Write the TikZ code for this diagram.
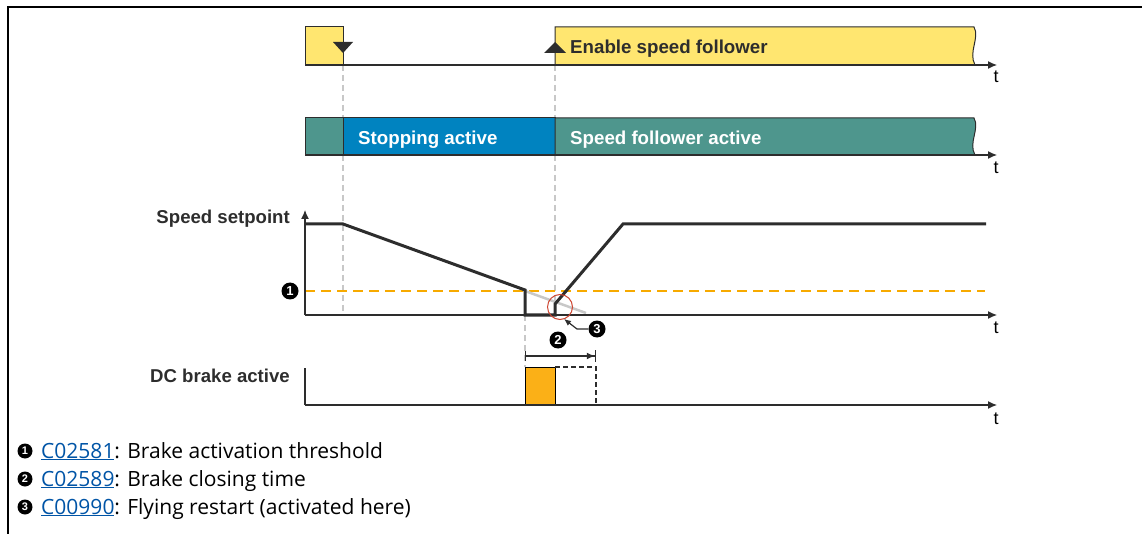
\documentclass[tikz,border=0pt]{standalone}
\usepackage{fontspec}
\setmainfont{Liberation Sans}
\newfontfamily\legendfont{Open Sans}
\usetikzlibrary{arrows.meta}
\definecolor{enyel}{RGB}{255,230,112}
\definecolor{stopblue}{RGB}{0,131,192}
\definecolor{teal2}{RGB}{78,150,141}
\definecolor{brakeorg}{RGB}{251,176,23}
\definecolor{throrg}{RGB}{247,170,0}
\definecolor{guide}{RGB}{200,200,200}
\definecolor{linkblue}{RGB}{0,84,166}
\definecolor{circred}{RGB}{205,70,50}
\definecolor{edge}{RGB}{45,45,45}
\tikzset{
  axis/.style={line width=1.2pt, draw=edge, -{Latex[length=9pt,width=8pt]}},
  yaxis/.style={line width=1.2pt, draw=edge},
  sigbox/.style={draw=edge, line width=1pt},
  guideline/.style={draw=guide, line width=1.3pt, dash pattern=on 6pt off 4pt},
  curve/.style={draw=edge, line width=3pt, line join=miter},
  tlabel/.style={font=\fontsize{18}{18}\selectfont, inner sep=0pt, anchor=base},
  boxtext/.style={font=\fontsize{18.7}{19}\selectfont\bfseries, inner sep=0pt, anchor=base west},
  sidelabel/.style={font=\fontsize{18.6}{19}\selectfont\bfseries, inner sep=0pt, anchor=base east, text=edge},
  numbig/.style={circle, fill=black, text=white, inner sep=0pt, minimum size=17pt, font=\fontsize{13}{13}\selectfont\bfseries},
  numsmall/.style={circle, fill=black, text=white, inner sep=0pt, minimum size=15pt, font=\fontsize{11}{11}\selectfont\bfseries},
  legend/.style={font=\legendfont\fontsize{21}{21}\selectfont, inner sep=0pt, anchor=base west},
}
\newcommand{\lnk}[1]{\underline{#1}}
\begin{document}
\begin{tikzpicture}[x=1pt,y=-1pt]
\useasboundingbox (0,0) rectangle (1142,534);
% frame
\draw[line width=2.5pt, black] (8,534) -- (8,7) -- (1142,7);

% guide dashed lines
\draw[guideline] (343,65) -- (343,315);
\draw[guideline] (555,65) -- (555,305);
\draw[guideline] (525,315) -- (525,367);

% ---------- Row 1: enable ----------
\draw[sigbox, fill=enyel] (305,27) rectangle (343,65);
\draw[sigbox, fill=enyel] (555,65) -- (555,27) -- (974,27)
   .. controls (980,38) and (968,52) .. (975,65) -- cycle;
\draw[axis] (305,65) -- (997,65);
\node[tlabel] (t1) at (996,83) {t};
\fill[edge] (333,42) -- (353,42) -- (343,53) -- cycle;
\fill[edge] (544,53) -- (566,53) -- (555,42) -- cycle;
\node[boxtext, text=edge] (en) at (570,54) {Enable speed follower};

% ---------- Row 2: state ----------
\draw[sigbox, fill=teal2] (305,118) rectangle (343,155);
\draw[sigbox, fill=stopblue] (343,118) rectangle (555,155);
\draw[sigbox, fill=teal2] (555,155) -- (555,118) -- (974,118)
   .. controls (980,129) and (968,143) .. (975,155) -- cycle;
\draw[axis] (305,155) -- (997,155);
\node[tlabel] (t2) at (996,174) {t};
\node[boxtext, text=white] (st) at (358,145) {Stopping active};
\node[boxtext, text=white] (sf) at (570,145) {Speed follower active};

% ---------- Row 3: speed setpoint ----------
\draw[throrg, line width=1.5pt, dash pattern=on 10pt off 6pt] (305,291) -- (985,291);
\draw[guide, line width=2.5pt] (525,291) -- (586,313);
\draw[yaxis, -{Latex[length=9pt,width=8pt]}] (305,315) -- (305,210);
\draw[axis] (305,315) -- (997,315);
\node[tlabel] (t3) at (996,334) {t};
\node[sidelabel] (sp) at (290,223.5) {Speed setpoint};
\draw[curve] (305,224) -- (343,224) -- (525,290) -- (525,315) -- (555,315) -- (555,304) -- (623,224) -- (986,224);
\node[numbig] (n1) at (290,291) {1};
\draw[circred, line width=1pt] (560,307) circle (12.5);
\coordinate (circbot) at (564,319);
\node[numbig] (n3) at (597,329) {3};
\draw[edge, line width=1.2pt, -{Latex[length=7pt,width=6pt]}] (n3.west) -- (577,329) -- (circbot);
\node[numbig] (n2) at (558,340) {2};

% ---------- Row 4: DC brake ----------
\draw[edge, line width=1.2pt, {Bar[width=10pt]}-{Latex[length=8pt,width=7pt]Bar[width=12pt]}] (525,356) -- (596,356);
\draw[black, line width=1pt, fill=brakeorg] (525,405) -- (525,367) -- (555,367) -- (555,405);
\draw[edge, line width=1.2pt, dash pattern=on 5pt off 3pt] (555,367) -- (596,367) -- (596,405);
\draw[yaxis] (305,405) -- (305,368);
\draw[axis] (305,405) -- (997,405);
\node[tlabel] (t4) at (996,424) {t};
\node[sidelabel] (dc) at (290,382.5) {DC brake active};

% ---------- legend ----------
\node[numsmall] (l1) at (25,451) {1};
\node[numsmall] (l2) at (25,479) {2};
\node[numsmall] (l3) at (25,507) {3};
\node[legend] (lt1) at (41,458) {\textcolor{linkblue}{\lnk{C02581}}: Brake activation threshold};
\node[legend] (lt2) at (41,486) {\textcolor{linkblue}{\lnk{C02589}}: Brake closing time};
\node[legend] (lt3) at (41,514) {\textcolor{linkblue}{\lnk{C00990}}: Flying restart (activated here)};
\end{tikzpicture}
\end{document}
